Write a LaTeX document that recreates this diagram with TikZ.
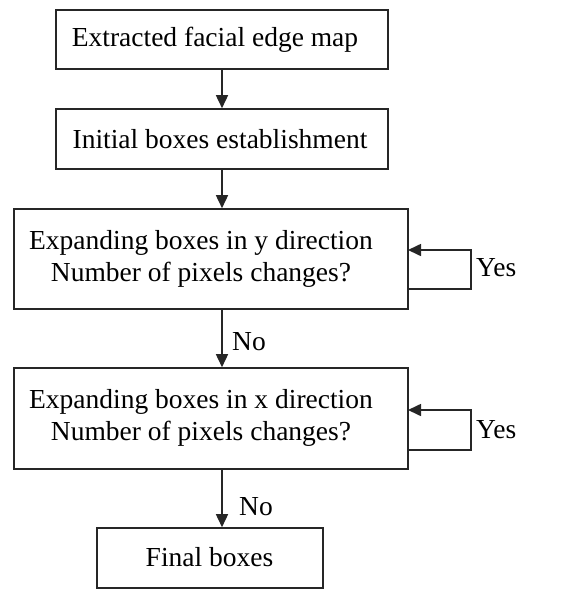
\documentclass[tikz,border=0pt]{standalone}
\usepackage{fontspec}
\setmainfont{Liberation Serif}
\usetikzlibrary{arrows.meta}
\begin{document}
\begin{tikzpicture}[x=1pt,y=-1pt,
  every node/.style={font=\fontsize{27.5}{32}\selectfont},
  boxnode/.style={draw=black!85,line width=1.6pt,rectangle,inner sep=0pt},
  txt/.style={inner sep=0pt,align=center},
  conn/.style={draw=black!85,line width=1.6pt,-{Triangle[length=13pt,width=12pt]}},
  lbl/.style={inner sep=0pt}]
\useasboundingbox (0,0) rectangle (582,590);
\node[boxnode,minimum width=332pt,minimum height=59pt] (b1) at (222,39.5) {};
\node[txt] (t1) at (215,40) {Extracted facial edge map};
\node[boxnode,minimum width=332pt,minimum height=60pt] (b2) at (222,139) {};
\node[txt] (t2) at (220,139) {Initial boxes establishment};
\node[boxnode,minimum width=394pt,minimum height=100pt] (b3) at (211,259) {};
\node[txt] (t3) at (201,259) {Expanding boxes in y direction\\Number of pixels changes?};
\node[boxnode,minimum width=394pt,minimum height=101pt] (b4) at (211,418.5) {};
\node[txt] (t4) at (201,418) {Expanding boxes in x direction\\Number of pixels changes?};
\node[boxnode,minimum width=226pt,minimum height=60pt] (b5) at (210,558) {};
\node[txt] (t5) at (209.5,557) {Final boxes};
\draw[conn] (b1.south -| 222,0) -- (b2.north -| 222,0);
\draw[conn] (b2.south -| 222,0) -- (b3.north -| 222,0);
\draw[conn] (b3.south -| 222,0) -- (b4.north -| 222,0);
\node[lbl] (no1) at (249,342) {No};
\draw[conn] (b4.south -| 222,0) -- (b5.north -| 222,0);
\node[lbl] (no2) at (256,507) {No};
\coordinate (y1a) at (408,289);
\coordinate (y1b) at (471,289);
\coordinate (y1c) at (471,250);
\coordinate (y1d) at (408,250);
\draw[conn] (y1a) -- (y1b) -- (y1c) -- (y1d);
\node[lbl,anchor=west] (yes1) at (476,268) {Yes};
\coordinate (y2a) at (408,450);
\coordinate (y2b) at (471,450);
\coordinate (y2c) at (471,410);
\coordinate (y2d) at (408,410);
\draw[conn] (y2a) -- (y2b) -- (y2c) -- (y2d);
\node[lbl,anchor=west] (yes2) at (476,430) {Yes};
\end{tikzpicture}
\end{document}
